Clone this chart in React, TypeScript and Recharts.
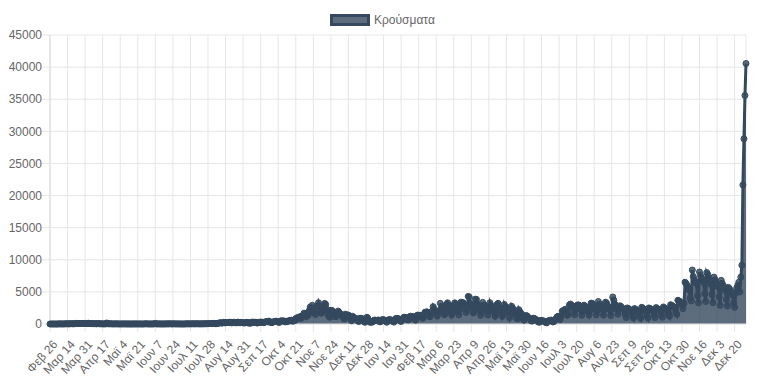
import React from 'react';
import { AreaChart, Area, XAxis, YAxis, CartesianGrid } from 'recharts';

// daily confirmed cases, one array per month
const feb20 = [1, 1, 1, 4];
const mar20 = [3, 0, 0, 4, 1, 22, 14, 13, 7, 11, 16, 27, 33, 38, 10, 41, 35, 56, 31, 31, 46, 95, 71, 73, 78, 71, 74, 95, 102, 63, 95];
const apr20 = [82, 60, 126, 62, 54, 81, 62, 48, 70, 55, 15, 81, 56, 34, 25, 35, 17, 14, 24, 12, 156, 39, 20, 33, 29, 17, 13, 13, 21, 12];
const may20 = [25, 12, 6, 10, 10, 4, 16, 17, 14, 8, 6, 10, 12, 0, 4, 12, 6, 8, 10, 13, 6, 5, 10, 8, 2, 2, 5, 16, 37, 11, 10];
const jun20 = [3, 9, 2, 15, 8, 16, 97, 9, 10, 19, 13, 10, 4, 6, 10, 5, 12, 34, 3, 18, 52, 10, 7, 21, 22, 16, 13, 12, 17, 7];
const jul20 = [13, 3, 3, 3, 3, 10, 23, 21, 24, 21, 19, 23, 34, 25, 19, 31, 38, 28, 23, 17, 20, 27, 21, 25, 33, 37, 31, 58, 40, 54, 56];
const aug20 = [50, 110, 67, 39, 58, 81, 124, 151, 203, 163, 146, 262, 203, 186, 230, 217, 221, 264, 269, 168, 217, 284, 205, 207, 172, 293, 241, 182, 266, 202, 187];
const sep20 = [168, 169, 262, 232, 143, 215, 100, 204, 304, 250, 267, 261, 197, 148, 241, 265, 302, 260, 282, 201, 308, 342, 377, 321, 455, 286, 286, 210, 314, 361];
const oct20 = [383, 446, 338, 326, 238, 423, 506, 458, 475, 459, 314, 422, 374, 469, 560, 508, 597, 430, 488, 542, 865, 882, 1026, 935, 1134, 865, 1259, 1211, 1690, 1547, 1152];
const nov20 = [1718, 1379, 2077, 2646, 2432, 2917, 1914, 1718, 1497, 2752, 2646, 3316, 2835, 1695, 1698, 2198, 2489, 3209, 3038, 2311, 1498, 1197, 1044, 2131, 2121, 1829, 1523, 1157, 1155, 1595];
const dec20 = [2013, 1812, 1604, 1394, 1193, 973, 769, 1533, 1383, 1373, 1395, 1000, 839, 517, 1205, 1003, 900, 883, 683, 504, 385, 883, 892, 864, 643, 398, 262, 606, 1047, 860, 457];
const jan21 = [262, 311, 290, 426, 595, 608, 545, 568, 627, 373, 338, 635, 665, 673, 591, 468, 269, 397, 678, 659, 657, 483, 425, 294, 554, 865, 826, 857, 727, 495, 400];
const feb21 = [745, 880, 1075, 895, 1018, 691, 637, 1066, 1217, 1130, 1140, 1108, 782, 597, 1249, 1391, 1247, 1359, 1346, 1019, 884, 1214, 1817, 1846, 1895, 1679, 1297, 1109];
const mar21 = [1551, 1996, 2702, 2353, 2016, 1718, 1232, 1698, 2089, 3215, 2409, 2702, 2078, 1445, 1759, 3019, 3300, 2944, 2770, 2232, 1410, 1800, 2910, 3300, 3062, 2832, 2007, 1419, 2291, 3400, 3300];
const apr21 = [3329, 3069, 2601, 1803, 2323, 4300, 4200, 3204, 3072, 2583, 1722, 1982, 3874, 3815, 3089, 2823, 2217, 1355, 1898, 3366, 2935, 2890, 2572, 2177, 1401, 2230, 3305, 2904, 2685, 2459];
const may21 = [1882, 1214, 1602, 3071, 3214, 2654, 2457, 1992, 1182, 1579, 3034, 2685, 2608, 2181, 1739, 956, 1464, 2771, 2485, 2168, 1862, 1519, 865, 820, 2232, 1888, 1658, 1495, 1064, 600, 1112];
const jun21 = [1316, 1255, 1056, 922, 773, 477, 466, 902, 850, 770, 589, 533, 293, 279, 539, 566, 461, 463, 429, 231, 178, 425, 525, 533, 618, 491, 318, 375, 667, 836];
const jul21 = [1106, 1202, 1126, 696, 1223, 2002, 2092, 2080, 2309, 1938, 1347, 1587, 2964, 3109, 2900, 2841, 2401, 1440, 2207, 2842, 2974, 2963, 2815, 2237, 1349, 2037, 2936, 2808, 2653, 2521, 1917];
const aug21 = [1405, 2070, 3248, 3216, 2771, 2856, 2313, 1420, 2064, 3500, 2934, 3038, 2743, 2248, 1376, 2233, 3400, 3240, 2834, 2663, 2238, 1306, 2261, 4200, 3700, 3098, 2887, 2343, 1532, 2226, 2830];
const sep21 = [2700, 2500, 2300, 2200, 1500, 1000, 2500, 2400, 2300, 2100, 1900, 1300, 950, 2400, 2300, 2150, 2000, 1800, 1250, 900, 2600, 2450, 2300, 2100, 1900, 1300, 950, 2500, 2400, 2300];
const oct21 = [2200, 2000, 1400, 1000, 2550, 2400, 2300, 2150, 2000, 1450, 1050, 2650, 2500, 2400, 2250, 2100, 1550, 1200, 3000, 2900, 2800, 2700, 2500, 1800, 1500, 3700, 3600, 3500, 3300, 3000, 2400];
const nov21 = [3200, 6500, 6300, 6000, 5700, 5300, 4000, 3600, 8400, 7400, 6900, 6600, 6300, 4400, 3300, 8100, 7500, 7200, 6900, 6500, 4700, 3500, 8000, 7700, 7100, 6800, 6200, 4600, 3300, 7300];
const dec21 = [6900, 6500, 6200, 5800, 4200, 2900, 6800, 6300, 6000, 5600, 5200, 3800, 2800, 5700, 5500, 5200, 4900, 4500, 3300, 2600, 4800, 5600, 6000, 6500, 5000, 7300, 9150, 21657, 28828, 35580, 40560];

const cases = [
    ...feb20, ...mar20, ...apr20, ...may20, ...jun20, ...jul20, ...aug20, ...sep20, ...oct20, ...nov20, ...dec20,
    ...jan21, ...feb21, ...mar21, ...apr21, ...may21, ...jun21, ...jul21, ...aug21, ...sep21, ...oct21, ...nov21, ...dec21,
];

// one label every 17 days, starting at Feb 26 2020
const tickStep = 17;
const tickLabels = [
    'Φεβ 26', 'Μαρ 14', 'Μαρ 31', 'Απρ 17', 'Μαϊ 4', 'Μαϊ 21', 'Ιουν 7', 'Ιουν 24', 'Ιουλ 11', 'Ιουλ 28',
    'Αυγ 14', 'Αυγ 31', 'Σεπ 17', 'Οκτ 4', 'Οκτ 21', 'Νοε 7', 'Νοε 24', 'Δεκ 11', 'Δεκ 28', 'Ιαν 14',
    'Ιαν 31', 'Φεβ 17', 'Μαρ 6', 'Μαρ 23', 'Απρ 9', 'Απρ 26', 'Μαϊ 13', 'Μαϊ 30', 'Ιουν 16', 'Ιουλ 3',
    'Ιουλ 20', 'Αυγ 6', 'Αυγ 23', 'Σεπ 9', 'Σεπ 26', 'Οκτ 13', 'Οκτ 30', 'Νοε 16', 'Δεκ 3', 'Δεκ 20',
];
const yTicks = [0, 5000, 10000, 15000, 20000, 25000, 30000, 35000, 40000, 45000];
const seriesName = 'Κρούσματα';

const data = cases.map((v, i) => ({ day: i, cases: v }));
const xTicks = tickLabels.map((_, i) => i * tickStep);

const FONT = '"Liberation Sans", Arial, Helvetica, sans-serif';
const GRID = '#e6e6e6';
const DARK = '#34495e';

const RotatedTick = (props: any) => {
    const { x, y, payload } = props;
    const label = tickLabels[Math.round(payload.value / tickStep)];
    // anchor a bit right of and below the tick, like chart.js does
    const ax = x + 5;
    const ay = y + 8;
    return (
        <text
            x={ax}
            y={ay}
            dy="0.35em"
            textAnchor="end"
            fill="#666"
            fontSize={12}
            fontFamily={FONT}
            transform={`rotate(-48, ${ax}, ${ay})`}
        >
            {label}
        </text>
    );
};

export default function App() {
    return (
        <div style={{ position: 'absolute', left: 0, top: 0, width: 768, height: 381, background: '#fff' }}>
            {/* legend */}
            <div style={{ position: 'absolute', left: 330, top: 13, display: 'flex', alignItems: 'center', fontFamily: FONT, fontSize: 12, color: '#666' }}>
                <div style={{ boxSizing: 'border-box', width: 40, height: 12, border: `3px solid ${DARK}`, background: 'rgba(52,73,94,0.8)', marginRight: 4 }} />
                <span>{seriesName}</span>
            </div>
            <AreaChart width={768} height={381} data={data} margin={{ top: 35, right: 22, bottom: 0, left: 0 }}>
                <CartesianGrid stroke={GRID} vertical={true} horizontal={true} />
                <XAxis
                    dataKey="day"
                    type="number"
                    domain={[0, cases.length - 1]}
                    ticks={xTicks}
                    interval={0}
                    height={57}
                    tickSize={8}
                    tickMargin={2}
                    tickLine={{ stroke: GRID }}
                    axisLine={{ stroke: GRID }}
                    tick={<RotatedTick />}
                />
                <YAxis
                    type="number"
                    domain={[0, 45000]}
                    ticks={yTicks}
                    width={50}
                    tickSize={8}
                    tickMargin={0}
                    tickLine={{ stroke: GRID }}
                    axisLine={{ stroke: '#d9d9d9' }}
                    tick={{ fill: '#666', fontSize: 12, fontFamily: FONT }}
                />
                <Area
                    type="linear"
                    dataKey="cases"
                    name={seriesName}
                    stroke={DARK}
                    strokeWidth={3}
                    fill={DARK}
                    fillOpacity={0.8}
                    dot={{ r: 3, fill: DARK, stroke: DARK, strokeWidth: 1 }}
                    isAnimationActive={false}
                />
            </AreaChart>
        </div>
    );
}
